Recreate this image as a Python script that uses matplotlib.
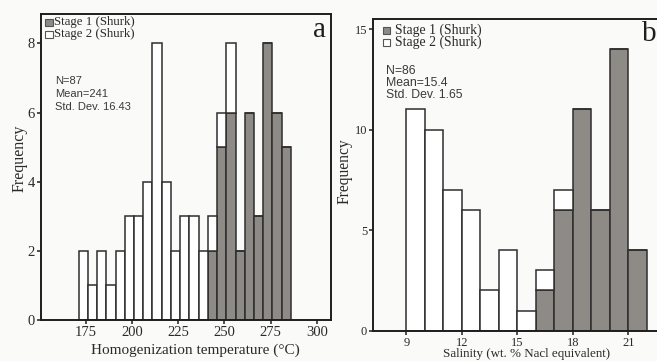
import matplotlib
matplotlib.use("Agg")
import matplotlib.pyplot as plt
from matplotlib.patches import Rectangle

# panel a: homogenization temperature, 5 degree bins
a_bin_left = list(range(171, 286, 5))
a_stage1 = [0, 0, 0, 0, 0, 0, 0, 0, 0, 0, 0, 0, 0, 0, 2, 5, 6, 2, 6, 3, 8, 6, 5]
a_stage2 = [2, 1, 2, 1, 2, 3, 3, 4, 8, 4, 2, 3, 3, 2, 1, 1, 2, 0, 0, 0, 0, 0, 0]
a_xticks = [175, 200, 225, 250, 275, 300]
a_yticks = [0, 2, 4, 6, 8]

# panel b: salinity, 1 wt.% bins
b_bin_left = list(range(9, 22))
b_stage1 = [0, 0, 0, 0, 0, 0, 0, 2, 6, 11, 6, 14, 4]
b_stage2 = [11, 10, 7, 6, 2, 4, 1, 1, 1, 0, 0, 0, 0]
b_xticks = [9, 12, 15, 18, 21]
b_yticks = [0, 5, 10, 15]

W, H = 657, 361
bg = '#fafaf8'
gray = '#8e8a86'
edge = '#2e2e2e'
serif = ['Liberation Serif', 'DejaVu Serif']
sans = ['Liberation Sans', 'DejaVu Sans']

def fx(x):
    return x / W

def fy(y):
    return 1 - y / H

fig = plt.figure(figsize=(W / 100, H / 100), dpi=100, facecolor=bg)

# axes boxes from pixel edges (left, top, right, bottom)
ax_a = fig.add_axes([fx(41), fy(320), fx(331) - fx(41), fy(14) - fy(320)])
ax_b = fig.add_axes([fx(373.3), fy(330.7), 1 - fx(373.3), fy(19) - fy(330.7)])

def draw(ax, left, s1, s2, width):
    ax.set_facecolor(bg)
    ax.bar(left, s1, width=width, align='edge', color=gray, edgecolor=edge, linewidth=1.1)
    ax.bar(left, s2, width=width, bottom=s1, align='edge', color='white',
           edgecolor=edge, linewidth=1.1)
    for sp in ax.spines.values():
        sp.set_color('#1e1e1e')
        sp.set_linewidth(1.4)
    ax.tick_params(direction='out', length=3, width=1.1, color='#1e1e1e', pad=1.5)

draw(ax_a, a_bin_left, a_stage1, a_stage2, 5)
ax_a.set_xlim(150.6, 307.7)
ax_a.set_ylim(0, 8.85)
ax_a.set_xticks(a_xticks)
ax_a.set_yticks(a_yticks)
ax_a.tick_params(labelsize=10.5)

draw(ax_b, b_bin_left, b_stage1, b_stage2, 1)
ax_b.set_xlim(7.22, 22.54)
ax_b.set_ylim(0, 15.5)
ax_b.set_xticks(b_xticks)
ax_b.set_yticks(b_yticks)
ax_b.tick_params(labelsize=9)
ax_b.spines['right'].set_visible(False)

for ax in (ax_a, ax_b):
    for lab in ax.get_xticklabels() + ax.get_yticklabels():
        lab.set_family(serif)
        lab.set_color('#2a2a2a')

tc = '#2a2a2a'
# axis labels
fig.text(fx(195.5), fy(350), 'Homogenization temperature (°C)', family=serif,
         fontsize=11, color=tc, ha='center', va='center')
fig.text(fx(20), fy(158), 'Frequency', family=serif, fontsize=11.5, color=tc,
         rotation=90, ha='center', va='center')
fig.text(fx(527), fy(354), 'Salinity (wt. % Nacl equivalent)', family=serif,
         fontsize=9.4, color=tc, ha='center', va='center')
fig.text(fx(345), fy(171), 'Frequency', family=serif, fontsize=11.2, color=tc,
         rotation=90, ha='center', va='center')

# panel letters
fig.text(fx(320), fy(30), 'a', family=serif, fontsize=21, color='#1e1e1e',
         ha='center', va='center')
fig.text(fx(649), fy(34), 'b', family=serif, fontsize=21, color='#1e1e1e',
         ha='center', va='center')

# legends: square x, first line y, text x, line spacing, square size, font size
def legend(sx, y1, tx, dy, size, fs):
    for i, (fc, lab) in enumerate([(gray, 'Stage 1 (Shurk)'), ('white', 'Stage 2 (Shurk)')]):
        yc = y1 + i * dy
        fig.patches.append(Rectangle((fx(sx), fy(yc + size / 2)), size / W, size / H,
                                     transform=fig.transFigure, facecolor=fc,
                                     edgecolor='#555555', linewidth=0.8))
        fig.text(fx(tx), fy(yc), lab, family=serif, fontsize=fs, color=tc,
                 ha='left', va='center')

legend(45, 22.5, 54, 12, 7.5, 9.3)
legend(383, 30.5, 395, 12, 6.5, 9.9)

# summary statistics
def stats(x, y1, dy, lines, fs):
    for i, t in enumerate(lines):
        fig.text(fx(x), fy(y1 + i * dy), t, family=sans, fontsize=fs,
                 color='#3a3a3a', ha='left', va='center')

stats(55, 81, 13, ['N=87', 'Mean=241', 'Std. Dev. 16.43'], 8)
stats(386, 71, 12, ['N=86', 'Mean=15.4', 'Std. Dev. 1.65'], 8.8)

fig.savefig('out.png', dpi=100, facecolor=bg)
